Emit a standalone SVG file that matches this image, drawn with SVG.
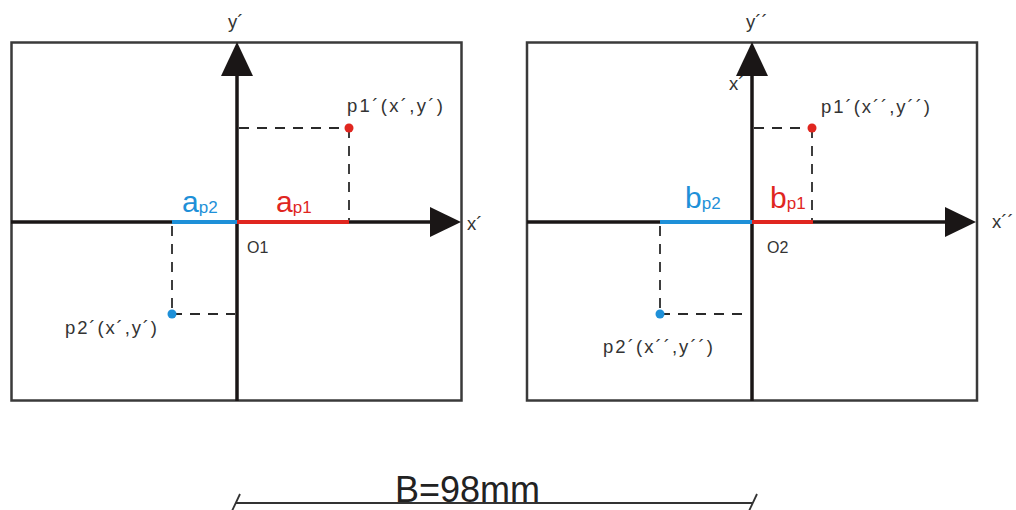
<svg xmlns="http://www.w3.org/2000/svg" width="1016" height="510" viewBox="0 0 1016 510">
<style>
.box{fill:none;stroke:#3a3a3a;stroke-width:2.5}
.axis{stroke:#1a1616;stroke-width:3.5;fill:none}
.head{fill:#1a1616}
.dash{stroke:#2a2a2a;stroke-width:1.8;stroke-dasharray:10 8;fill:none}
.red{stroke:#e0261f;stroke-width:4}
.blue{stroke:#1e90d8;stroke-width:4}
.lbl{font-family:"Liberation Sans",Arial,sans-serif;fill:#333;font-size:18.5px}
.big{font-family:"Liberation Sans",Arial,sans-serif;font-size:30px}
.sub{font-size:17px}
.dim{stroke:#333;stroke-width:1.8;fill:none}
</style>
<g id="frame-left"><rect class="box" x="11.5" y="42.5" width="450" height="358"/></g>
<g id="frame-right"><rect class="box" x="527" y="42.5" width="450" height="358"/></g>
<g id="labels-left">
<text class="lbl" x="228" y="28">y´</text>
<text class="lbl" x="467" y="230">x´</text>
<text class="lbl" x="247" y="253" style="font-size:16px">O1</text>
<text class="lbl" x="347" y="112" textLength="96" lengthAdjust="spacing">p1´(x´,y´)</text>
<text class="lbl" x="65" y="334" textLength="92" lengthAdjust="spacing">p2´(x´,y´)</text>
<text class="big" x="182" y="212" fill="#1e90d8">a<tspan class="sub" dy="1">p2</tspan></text>
<text class="big" x="276" y="212" fill="#e0261f">a<tspan class="sub" dy="1">p1</tspan></text>
</g>
<g id="labels-right">
<text class="lbl" x="746" y="28">y´´</text>
<text class="lbl" x="992" y="228">x´´</text>
<text class="lbl" x="729" y="90">x´</text>
<text class="lbl" x="767" y="253" style="font-size:16px">O2</text>
<text class="lbl" x="821" y="113" textLength="109" lengthAdjust="spacing">p1´(x´´,y´´)</text>
<text class="lbl" x="603" y="353" textLength="110" lengthAdjust="spacing">p2´(x´´,y´´)</text>
<text class="big" x="685" y="208" fill="#1e90d8">b<tspan class="sub" dy="1">p2</tspan></text>
<text class="big" x="770" y="208" fill="#e0261f">b<tspan class="sub" dy="1">p1</tspan></text>
</g>
<g id="connectors">
<line class="axis" x1="11" y1="222" x2="440" y2="222"/>
<line class="axis" x1="237" y1="401" x2="237" y2="60"/>
<polygon class="head" points="237,42 221,76 253,76"/>
<polygon class="head" points="461,222 430,207 430,237"/>
<line class="blue" x1="172" y1="222" x2="237" y2="222"/>
<line class="red" x1="237" y1="222" x2="349" y2="222"/>
<line class="dash" x1="239" y1="128" x2="349" y2="128"/>
<line class="dash" x1="349" y1="128" x2="349" y2="220"/>
<line class="dash" x1="172" y1="226" x2="172" y2="314"/>
<line class="dash" x1="172" y1="314" x2="235" y2="314"/>
<line class="axis" x1="527" y1="222" x2="955" y2="222"/>
<line class="axis" x1="752" y1="401" x2="752" y2="60"/>
<polygon class="head" points="752,42 736,76 768,76"/>
<polygon class="head" points="976,222 945,207 945,237"/>
<line class="blue" x1="660" y1="222" x2="752" y2="222"/>
<line class="red" x1="752" y1="222" x2="813" y2="222"/>
<line class="dash" x1="754" y1="128" x2="812" y2="128"/>
<line class="dash" x1="812" y1="128" x2="812" y2="220"/>
<line class="dash" x1="660" y1="226" x2="660" y2="314"/>
<line class="dash" x1="660" y1="314" x2="750" y2="314"/>
</g>
<g id="points">
<circle cx="349" cy="128" r="4.5" fill="#e0261f"/>
<circle cx="172" cy="314" r="4.5" fill="#1e90d8"/>
<circle cx="812" cy="128" r="4.5" fill="#e0261f"/>
<circle cx="660" cy="314" r="4.5" fill="#1e90d8"/>
</g>
<g id="dimension">
<line class="dim" x1="236" y1="503" x2="753" y2="503"/>
<line class="dim" x1="232" y1="511" x2="240" y2="494"/>
<line class="dim" x1="749" y1="511" x2="757" y2="494"/>
<text x="395" y="502" font-family="Liberation Sans, Arial, sans-serif" font-size="36" fill="#222">B=98mm</text>
</g>
</svg>
